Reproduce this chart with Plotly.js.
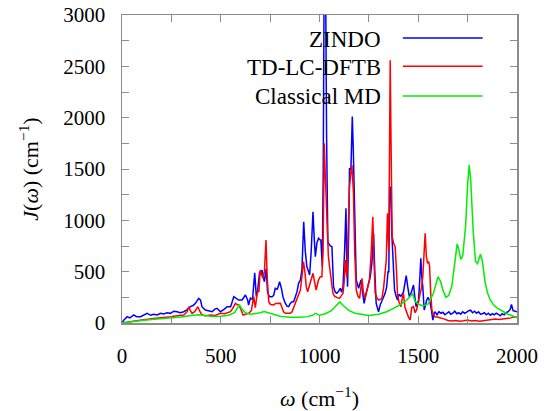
<!DOCTYPE html>
<html>
<head>
<meta charset="utf-8">
<script src="https://cdn.plot.ly/plotly-3.0.1.min.js"></script>
<style>html,body{margin:0;padding:0;background:#fff;}#plot{width:546px;height:411px;}</style>
</head>
<body>
<div id="plot"></div>
<script>
// ZINDO spectral density
const zindoX = [0,10,26,40,60,75,94,110,127,145,160,178,195,211,228,245,262,279,295,313,330,346,360,372,388,397,405,422,440,456,470,481,498,515,532,550,566,580,591,608,625,636,641,650,661,672,680,687,697,703,709,715,721,730,737,747,760,768,776,787,798,808,815,825,835,844,852,861,869,877,886,894,903,911,920,928,936,945,950,958,967,974,979,987,995,1002,1007,1014,1019,1024,1030,1036,1042,1046,1055,1063,1071,1080,1088,1097,1105,1112,1119,1127,1134,1138,1142,1148,1152,1159,1166,1171,1176,1181,1186,1192,1198,1204,1210,1218,1226,1237,1248,1257,1265,1274,1280,1287,1293,1299,1308,1316,1324,1332,1340,1347,1351,1355,1361,1366,1373,1380,1388,1395,1403,1412,1425,1432,1439,1447,1455,1465,1476,1483,1489,1495,1501,1507,1513,1518,1523,1530,1537,1543,1550,1560,1567,1574,1580,1585,1595,1605,1615,1625,1635,1645,1655,1665,1675,1685,1695,1705,1715,1725,1735,1745,1755,1765,1775,1785,1795,1805,1815,1825,1835,1845,1855,1865,1875,1885,1895,1905,1915,1925,1935,1945,1955,1965,1972,1980,1990,2000];
const zindoY = [0,30,61,50,78,60,61,80,94,75,85,78,95,88,100,94,115,110,100,110,130,159,170,192,240,225,159,127,120,110,135,143,110,130,159,159,256,240,224,224,273,224,175,243,230,490,256,321,500,470,516,451,402,530,300,256,256,270,338,330,402,330,256,200,165,159,190,208,208,250,305,386,419,516,987,700,548,500,467,700,1084,800,646,780,825,810,808,548,1500,3600,3600,1800,800,776,750,743,354,300,289,310,338,300,354,700,1117,600,354,900,1507,1490,2010,1700,1328,800,419,380,338,380,419,300,192,300,386,450,581,873,500,192,150,110,180,224,250,289,350,500,500,1328,1312,873,500,321,260,224,280,260,300,380,461,350,256,300,370,250,159,200,208,400,630,450,354,127,200,224,250,200,120,29,90,110,80,110,95,105,80,100,110,85,95,115,90,100,85,110,95,105,120,125,100,115,95,110,85,90,100,80,95,75,90,80,95,85,70,90,80,100,110,130,180,120,115,110];

// TD-LC-DFTB spectral density
const dftbX = [0,30,60,100,160,200,245,280,313,330,338,346,355,368,384,395,405,425,448,470,498,520,549,560,574,583,591,600,613,625,641,655,667,675,687,693,700,707,714,721,729,735,743,752,760,768,777,785,795,802,810,818,827,835,845,852,861,869,877,886,894,903,911,919,926,933,940,950,962,967,975,983,990,995,1004,1012,1018,1024,1030,1038,1045,1051,1060,1068,1077,1085,1093,1101,1110,1119,1125,1130,1135,1139,1145,1152,1158,1164,1168,1172,1178,1186,1195,1203,1209,1215,1222,1231,1242,1253,1262,1270,1276,1282,1290,1299,1308,1316,1325,1333,1338,1344,1348,1351,1355,1358,1362,1368,1375,1383,1390,1395,1403,1412,1418,1425,1433,1442,1450,1459,1467,1476,1484,1492,1500,1510,1517,1523,1530,1535,1541,1547,1552,1557,1563,1569,1577,1585,1600,1615,1630,1650,1670,1690,1710,1730,1750,1770,1790,1810,1830,1850,1870,1890,1910,1930,1950,1970,1985,2000];
const dftbY = [0,10,23,30,45,50,61,70,78,110,159,120,94,110,159,110,78,70,78,72,94,90,110,140,192,180,175,143,78,85,94,120,256,150,321,300,516,470,435,500,808,450,208,180,175,175,190,192,190,192,150,110,94,94,100,94,110,150,192,250,289,321,451,597,500,354,305,380,467,484,400,321,380,419,451,451,700,1750,1400,873,650,548,400,289,260,256,245,240,260,289,400,614,500,451,900,1328,1450,1539,1400,1263,700,321,260,240,330,435,300,240,330,419,700,1035,600,289,250,224,230,240,350,500,614,1068,800,700,1800,2560,1800,840,780,743,500,273,200,159,230,289,150,94,60,29,150,159,100,130,200,289,350,451,700,873,650,581,600,560,300,127,80,61,55,50,40,25,20,25,18,22,28,20,25,18,22,28,35,38,35,40,42,50,60,55];

// Classical MD spectral density
const mdX = [0,50,100,150,200,250,300,350,387,420,460,500,540,570,585,595,605,625,650,680,700,720,740,770,800,850,900,940,965,980,990,1000,1030,1060,1085,1103,1120,1150,1180,1220,1250,1300,1340,1375,1410,1442,1460,1472,1484,1500,1525,1550,1577,1600,1612,1625,1640,1655,1670,1685,1697,1705,1715,1725,1740,1750,1758,1766,1778,1790,1800,1815,1825,1838,1850,1863,1880,1900,1925,1950,1975,2000];
const mdY = [0,15,25,33,40,48,58,72,80,72,64,65,75,100,140,178,140,100,85,90,100,112,100,80,65,56,55,62,75,95,82,75,90,120,170,205,170,120,95,78,72,85,110,143,180,224,255,285,210,185,165,185,289,450,410,320,250,270,360,600,770,720,620,650,950,1350,1540,1380,900,600,580,670,600,400,300,230,180,145,115,90,70,50];

const seriesNames = ['ZINDO', 'TD-LC-DFTB', 'Classical MD'];
const seriesColors = ['#0000ff', '#ff0000', '#00ee00'];

const xTickVals = [0,500,1000,1500,2000];
const xTickText = ['0','500','1000','1500','2000'];
const yTickVals = [0,500,1000,1500,2000,2500,3000];
const yTickText = ['0','500','1000','1500','2000','2500','3000'];

const FONT = '"Liberation Serif", "DejaVu Serif", serif';
const frameColor = '#8c8c8c';

const traces = [
  {x: zindoX, y: zindoY, name: seriesNames[0], mode: 'lines', line: {color: seriesColors[0], width: 1.5}},
  {x: dftbX, y: dftbY, name: seriesNames[1], mode: 'lines', line: {color: seriesColors[1], width: 1.5}},
  {x: mdX, y: mdY, name: seriesNames[2], mode: 'lines', line: {color: seriesColors[2], width: 1.5}}
];

// legend drawn gnuplot-style: text right-aligned, sample line to the right
const legY = [0.922, 0.831, 0.734];
const annotations = seriesNames.map((n, i) => ({
  text: n, xref: 'paper', yref: 'paper', x: 0.662, y: legY[i],
  xanchor: 'right', yanchor: 'middle', showarrow: false,
  font: {family: FONT, size: 23, color: '#000'}
}));
const shapes = seriesColors.map((c, i) => ({
  type: 'line', xref: 'paper', yref: 'paper', x0: 0.711, x1: 0.913, y0: legY[i] + 0.003, y1: legY[i] + 0.003,
  line: {color: c, width: 1.5}
}));

const axisCommon = {
  showgrid: false, zeroline: false, showline: true, linecolor: frameColor, linewidth: 1.5,
  mirror: 'ticks', ticks: 'inside', ticklen: 7, tickcolor: frameColor, tickwidth: 1,
  tickmode: 'array', tickfont: {family: FONT, size: 21, color: '#000'}
};

const layout = {
  width: 546, height: 411,
  margin: {l: 122, r: 29, t: 15, b: 88},
  paper_bgcolor: '#fff', plot_bgcolor: '#fff',
  showlegend: false,
  font: {family: FONT, size: 21, color: '#000'},
  xaxis: Object.assign({}, axisCommon, {
    range: [0, 2000], tickvals: xTickVals, ticktext: xTickText, ticklabelstandoff: 13,
    minor: {tickmode: 'array', tickvals: [250, 750, 1250, 1750], ticks: 'inside', ticklen: 7, tickcolor: frameColor, tickwidth: 1},
    title: {text: '<i>ω</i> (cm<sup>−1</sup>)', font: {family: FONT, size: 22}, standoff: 27}
  }),
  yaxis: Object.assign({}, axisCommon, {
    range: [0, 3000], tickvals: yTickVals, ticktext: yTickText, ticklabelstandoff: 11,
    minor: {tickmode: 'array', tickvals: [250, 750, 1250, 1750, 2250, 2750], ticks: 'inside', ticklen: 7, tickcolor: frameColor, tickwidth: 1},
    title: {text: '<i>J</i>(<i>ω</i>) (cm<sup>−1</sup>)', font: {family: FONT, size: 22}, standoff: 18}
  }),
  annotations: annotations,
  shapes: shapes
};

Plotly.newPlot('plot', traces, layout, {displayModeBar: false, staticPlot: true});
</script>
</body>
</html>
